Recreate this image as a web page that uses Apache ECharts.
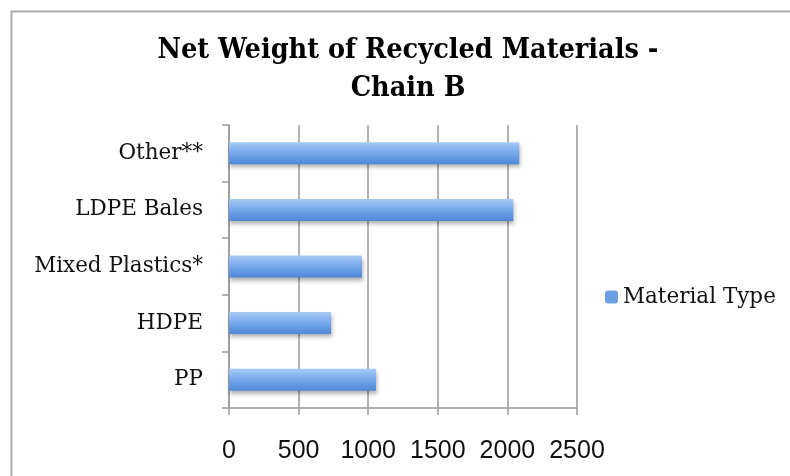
<!DOCTYPE html>
<html><head><meta charset="utf-8">
<script src="https://cdn.jsdelivr.net/npm/echarts@6/dist/echarts.min.js"></script>
<style>html,body{margin:0;padding:0;background:#fff}#c{width:790px;height:476px}</style>
</head><body><div id="c"></div>
<script>
var categories = ['PP', 'HDPE', 'Mixed Plastics*', 'LDPE Bales', 'Other**'];
var values = [1056, 733, 955, 2042, 2085];
var seriesName = 'Material Type';
var xTicks = [0, 500, 1000, 1500, 2000, 2500];

var chart = echarts.init(document.getElementById('c'));
chart.setOption({
  animation: false,
  backgroundColor: '#fff',
  graphic: [{
    type: 'rect', left: 9, top: 9, shape: {x: 0, y: 0, width: 800, height: 500},
    style: {fill: 'none', stroke: '#ababab', lineWidth: 2}, silent: true
  }],
  title: {
    text: 'Net Weight of Recycled Materials -\nChain B',
    left: 403, top: 27, textAlign: 'center',
    textStyle: {fontFamily: 'DejaVu Serif Condensed', fontWeight: 'bold', fontSize: 28.5, color: '#000', lineHeight: 38}
  },
  legend: {
    data: [{name: seriesName, itemStyle: {color: '#6b9fe4', shadowBlur: 0, shadowOffsetY: 0}}],
    left: 600, top: 281, itemWidth: 13, itemHeight: 13, itemGap: 8,
    textStyle: {fontFamily: 'DejaVu Serif', fontSize: 21.5, color: '#111'}
  },
  grid: {left: 229, right: 213, top: 125, bottom: 68, containLabel: false},
  xAxis: {
    type: 'value', min: 0, max: 2500, interval: 500,
    axisLine: {show: true, lineStyle: {color: '#999', width: 1.5}},
    axisTick: {show: true, length: 7, lineStyle: {color: '#999', width: 1.5}},
    splitLine: {show: true, lineStyle: {color: '#999', width: 1.5}},
    axisLabel: {margin: 31, fontFamily: 'Liberation Sans', fontSize: 25, color: '#111',
      formatter: function (v) { return xTicks.indexOf(v) >= 0 ? String(v) : ''; }}
  },
  yAxis: {
    type: 'category', data: categories,
    axisLine: {show: true, lineStyle: {color: '#999', width: 1.5}},
    axisTick: {show: true, length: 7, lineStyle: {color: '#999', width: 1.5}},
    axisLabel: {margin: 26, fontFamily: 'DejaVu Serif', fontSize: 21.5, color: '#111'}
  },
  series: [{
    name: seriesName, type: 'bar', data: values, barWidth: 22,
    itemStyle: {
      color: new echarts.graphic.LinearGradient(0, 0, 0, 1, [
        {offset: 0, color: '#a8cbf5'},
        {offset: 0.45, color: '#78aaeb'},
        {offset: 1, color: '#4f88d9'}
      ]),
      shadowBlur: 4, shadowOffsetY: 3, shadowOffsetX: 1, shadowColor: 'rgba(0,0,0,0.3)'
    }
  }]
});
</script></body></html>
